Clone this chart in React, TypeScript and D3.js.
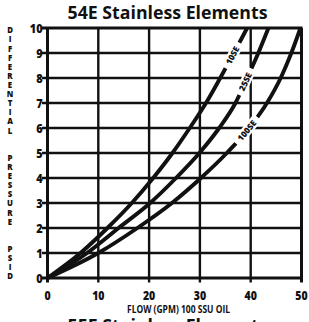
import React from "react";
import * as d3 from "d3";

const W = 309;
const H = 322;

// Values
const psid = [0, 1, 2, 3, 4, 5, 6, 7, 8, 9, 10];
const flow10SE = [0, 6.5, 11.8, 16.6, 20.8, 24.6, 28, 31.2, 34, 36.7, 39.3];
const flow25SE = [0, 7.8, 14, 20.2, 25.3, 29.9, 33.8, 37, 39.3, 41.5, 43.5];
const flow100SE = [0, 10, 17.7, 24.5, 30.2, 35.3, 39.7, 43.2, 45.9, 48, 49.8];
const seriesNames = ["10SE", "25SE", "100SE"];
const labelPsid = [8.9, 7.85, 5.9];
const xTicks = [0, 10, 20, 30, 40, 50];
const yTicks = [0, 1, 2, 3, 4, 5, 6, 7, 8, 9, 10];
const title = "54E Stainless Elements";
const nextTitle = "55E Stainless Elements";
const xTitle = "FLOW (GPM) 100 SSU OIL";
const yTitleWords = ["DIFFERENTIAL", "PRESSURE", "PSID"];

const FONT = "'Open Sans', 'Liberation Sans', sans-serif";

const x = d3.scaleLinear().domain([0, 50]).range([47.5, 301.5]);
const y = d3.scaleLinear().domain([0, 10]).range([278, 28]);

function interpFlow(flows: number[], p: number) {
  const i = Math.min(Math.floor(p), flows.length - 2);
  const t = p - i;
  return flows[i] + (flows[i + 1] - flows[i]) * t;
}

function CText(props: {
  x: number;
  y: number;
  size: number;
  sx?: number;
  anchor?: "start" | "middle" | "end";
  children: React.ReactNode;
  rotate?: number;
  len?: number;
  weight?: number;
}) {
  const { sx = 1, anchor = "middle", rotate = 0, weight = 700 } = props;
  return (
    <text
      transform={`translate(${props.x},${props.y}) rotate(${rotate}) scale(${sx},1)`}
      textAnchor={anchor}
      fontFamily={FONT}
      fontWeight={weight}
      fontSize={props.size}
      fill="#111"
      textLength={props.len}
      lengthAdjust={props.len ? "spacingAndGlyphs" : undefined}
    >
      {props.children}
    </text>
  );
}

export default function App() {
  const series = [flow10SE, flow25SE, flow100SE];
  const line = d3
    .line<[number, number]>()
    .x((d) => x(d[0]))
    .y((d) => y(d[1]))
    .curve(d3.curveMonotoneX);

  // stacked y title letters
  const rows: string[] = [];
  yTitleWords.forEach((w, i) => {
    if (i > 0) rows.push("", "");
    w.split("").forEach((c) => rows.push(c));
  });
  const rowStep = (276 - 30) / (rows.length - 1);

  return (
    <svg
      width={W}
      height={H}
      style={{ position: "fixed", left: 0, top: 0, background: "#fff" }}
    >
      <rect width={W} height={H} fill="#fff" />
      <CText x={167.5} y={18.5} size={18} len={200}>
        {title}
      </CText>
      <CText x={167.5} y={331.5} size={18} len={200}>
        {nextTitle}
      </CText>

      {/* grid */}
      {xTicks.map((t) => (
        <line
          key={"gx" + t}
          x1={x(t)}
          x2={x(t)}
          y1={y(0) + 4.5}
          y2={y(10)}
          stroke="#111"
          strokeWidth={t === 0 || t === 50 ? 3 : 2.4}
        />
      ))}
      {yTicks.map((t) => (
        <line
          key={"gy" + t}
          x1={x(0) - 5.5}
          x2={x(50) + 1}
          y1={y(t)}
          y2={y(t)}
          stroke="#111"
          strokeWidth={t === 0 || t === 10 ? 3 : 2.4}
        />
      ))}

      {/* tick labels */}
      {yTicks.map((t) => (
        <CText key={"yl" + t} x={42.5} y={y(t) + 4.6} size={12.8} sx={0.85} anchor="end" weight={800}>
          {t}
        </CText>
      ))}
      {xTicks.map((t) => (
        <CText key={"xl" + t} x={x(t)} y={300} size={12.4} sx={0.85} weight={800}>
          {t}
        </CText>
      ))}
      <CText x={178.5} y={312.5} size={10.5} len={103}>
        {xTitle}
      </CText>
      {rows.map((c, i) =>
        c ? (
          <CText key={"r" + i} x={10} y={30 + i * rowStep + 3.3} size={9.2} sx={0.85} weight={800}>
            {c}
          </CText>
        ) : null
      )}

      {/* curves */}
      {series.map((flows, si) => (
        <path
          key={"s" + si}
          d={line(flows.map((f, i) => [f, psid[i]] as [number, number])) || ""}
          fill="none"
          stroke="#111"
          strokeWidth={3.9}
          strokeLinecap="butt"
        />
      ))}

      {/* curve labels */}
      {series.map((flows, si) => {
        const p = labelPsid[si];
        const fx = interpFlow(flows, p);
        const px = x(fx);
        const py = y(p);
        const ax = x(interpFlow(flows, Math.min(p + 0.4, 10))) - x(interpFlow(flows, p - 0.4));
        const ay = y(Math.min(p + 0.4, 10)) - y(p - 0.4);
        const ang = (Math.atan2(ay, ax) * 180) / Math.PI;
        const name = seriesNames[si];
        const tw = name.length * 4.8;
        return (
          <g key={"lab" + si} transform={`translate(${px},${py}) rotate(${ang})`}>
            <rect x={-tw / 2 - 5} y={-5.2} width={tw + 10} height={10.4} fill="#fff" />
            <CText x={0} y={3} size={8.4} len={tw} weight={800}>
              {name}
            </CText>
          </g>
        );
      })}
    </svg>
  );
}
